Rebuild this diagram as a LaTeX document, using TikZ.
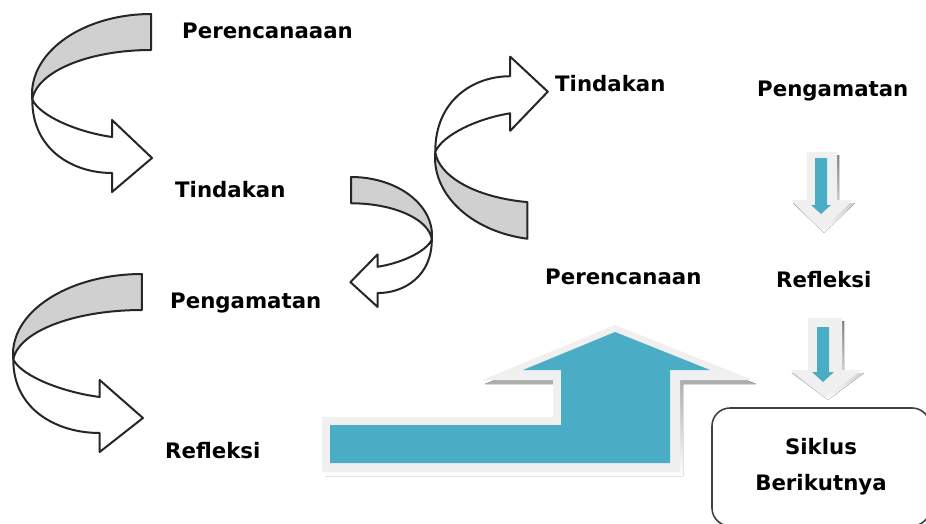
\documentclass[tikz,border=0pt]{standalone}
\usepackage{fontspec}
\setmainfont{DejaVu Sans}

\definecolor{ribbon}{RGB}{208,208,208}
\definecolor{cycleblue}{RGB}{75,172,198}
\definecolor{halo}{RGB}{240,240,240}
\definecolor{shade}{RGB}{140,168,178}

\begin{document}
\begin{tikzpicture}[x=1pt,y=-1pt,
  every node/.style={font=\fontsize{21.3}{36}\selectfont\bfseries, inner sep=0pt},
  lbl/.style={anchor=base west},
  band/.style={draw=black!85, line width=2pt, line join=round},
  pics/bend/.style={code={
    \filldraw[band,fill=ribbon]
      plot[domain=#1:176,samples=40] ({119+119*cos(\x)},{80+80*sin(\x)})
      -- plot[domain=184:#1,samples=40] ({119+119*cos(\x)},{89.3+53.3*sin(\x)}) -- cycle;
    \filldraw[band,fill=white]
      (0.3,85.6) .. controls (0,135) and (40,159) .. (80,159)
      -- (80,178) -- (120,144) -- (80,106) -- (80,123)
      .. controls (45,118) and (8,102) .. (0.3,85.6) -- cycle;
  }}]
  \useasboundingbox (0,0) rectangle (926,524);

  \pic[shift={(32,14)}] {bend=270};
  \pic[shift={(13,274)}, xscale=1.083] {bend=270};
  \pic[shift={(432,177)}, xscale=-0.68, yscale=0.73] {bend=270};
  \pic[shift={(435,240)}, xscale=0.94, yscale=-1.03] {bend=260};

  \fill[shade, shift={(3,4)}] (322,417) -- (553,417) -- (553,380) -- (482,380) -- (615,325)
    -- (753,380) -- (680,380) -- (680,472) -- (322,472) -- cycle;
  \fill[halo] (322,417) -- (553,417) -- (553,380) -- (482,380) -- (615,325)
    -- (753,380) -- (680,380) -- (680,472) -- (322,472) -- cycle;
  \fill[cycleblue] (330,425) -- (561,425) -- (561,370) -- (523,370) -- (615,332)
    -- (710,370) -- (670,370) -- (670,463) -- (330,463) -- cycle;

  \fill[shade, shift={(2,3)}] (807,152) -- (837,152) -- (837,200) -- (853,200) -- (822,230)
    -- (791,200) -- (807,200) -- cycle;
  \fill[halo] (807,152) -- (837,152) -- (837,200) -- (853,200) -- (822,230)
    -- (791,200) -- (807,200) -- cycle;
  \fill[cycleblue] (815,158) -- (827,158) -- (827,205) -- (831,205) -- (821,214)
    -- (811,205) -- (815,205) -- cycle;

  \fill[shade, shift={(2,3)}] (808,318) -- (842,318) -- (842,370) -- (862,370) -- (826,397)
    -- (790,370) -- (808,370) -- cycle;
  \fill[halo] (808,318) -- (842,318) -- (842,370) -- (862,370) -- (826,397)
    -- (790,370) -- (808,370) -- cycle;
  \fill[cycleblue] (817,327) -- (829,327) -- (829,372) -- (834,372) -- (823,382)
    -- (812,372) -- (817,372) -- cycle;

  \node[lbl] (plan1) at (182,39)  {Perencanaaan};
  \node[lbl] (act1)  at (175,197) {Tindakan};
  \node[lbl] (obs1)  at (170,308) {Pengamatan};
  \node[lbl] (ref1)  at (165,458) {Refleksi};
  \node[lbl] (act2)  at (555,92)  {Tindakan};
  \node[lbl] (obs2)  at (757,97)  {Pengamatan};
  \node[lbl] (plan2) at (545,284) {Perencanaan};
  \node[lbl] (ref2)  at (776,287) {Refleksi};
  \node[draw=black!75, line width=1.6pt, rounded corners=18pt, align=center,
        minimum width=218pt, minimum height=118pt] (next) at (821,467) {Siklus\\Berikutnya};
\end{tikzpicture}
\end{document}
